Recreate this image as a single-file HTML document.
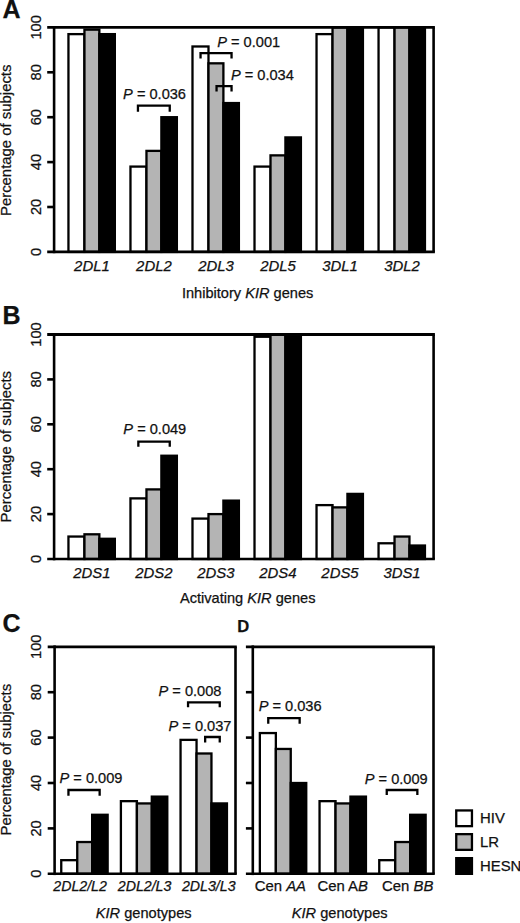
<!DOCTYPE html>
<html><head><meta charset="utf-8"><style>
html,body{margin:0;padding:0;background:#fff;}
svg{display:block;}
text{font-family:"Liberation Sans", sans-serif;fill:#111;stroke:#111;stroke-width:0.25px;}
</style></head><body>
<svg width="520" height="923" viewBox="0 0 520 923">
<rect x="68.45" y="34.13" width="16.00" height="217.77" fill="#fff" stroke="#000" stroke-width="2.3"/>
<rect x="84.45" y="29.64" width="14.90" height="222.26" fill="#b4b4b4" stroke="#000" stroke-width="2.3"/>
<rect x="99.35" y="34.13" width="15.50" height="217.77" fill="#000" stroke="#000" stroke-width="2.3"/>
<rect x="130.47" y="166.59" width="16.00" height="85.31" fill="#fff" stroke="#000" stroke-width="2.3"/>
<rect x="146.47" y="150.88" width="14.90" height="101.03" fill="#b4b4b4" stroke="#000" stroke-width="2.3"/>
<rect x="161.37" y="117.20" width="15.50" height="134.70" fill="#000" stroke="#000" stroke-width="2.3"/>
<rect x="192.49" y="46.48" width="16.00" height="205.42" fill="#fff" stroke="#000" stroke-width="2.3"/>
<rect x="208.49" y="63.32" width="14.90" height="188.58" fill="#b4b4b4" stroke="#000" stroke-width="2.3"/>
<rect x="223.39" y="103.06" width="15.50" height="148.84" fill="#000" stroke="#000" stroke-width="2.3"/>
<rect x="254.51" y="166.59" width="16.00" height="85.31" fill="#fff" stroke="#000" stroke-width="2.3"/>
<rect x="270.51" y="155.37" width="14.90" height="96.53" fill="#b4b4b4" stroke="#000" stroke-width="2.3"/>
<rect x="285.41" y="137.41" width="15.50" height="114.50" fill="#000" stroke="#000" stroke-width="2.3"/>
<rect x="316.53" y="34.13" width="16.00" height="217.77" fill="#fff" stroke="#000" stroke-width="2.3"/>
<rect x="332.53" y="27.40" width="14.90" height="224.50" fill="#b4b4b4" stroke="#000" stroke-width="2.3"/>
<rect x="347.43" y="27.40" width="15.50" height="224.50" fill="#000" stroke="#000" stroke-width="2.3"/>
<rect x="378.55" y="27.40" width="16.00" height="224.50" fill="#fff" stroke="#000" stroke-width="2.3"/>
<rect x="394.55" y="27.40" width="14.90" height="224.50" fill="#b4b4b4" stroke="#000" stroke-width="2.3"/>
<rect x="409.45" y="27.40" width="15.50" height="224.50" fill="#000" stroke="#000" stroke-width="2.3"/>
<line x1="54.10" y1="26.00" x2="54.10" y2="253.20" stroke="#000" stroke-width="2.6"/>
<line x1="47.20" y1="251.90" x2="434.90" y2="251.90" stroke="#000" stroke-width="2.6"/>
<line x1="47.20" y1="27.40" x2="434.90" y2="27.40" stroke="#000" stroke-width="2.8"/>
<line x1="433.60" y1="27.40" x2="433.60" y2="251.90" stroke="#000" stroke-width="2.6"/>
<line x1="47.20" y1="207.00" x2="54.10" y2="207.00" stroke="#000" stroke-width="2.6"/>
<line x1="47.20" y1="162.10" x2="54.10" y2="162.10" stroke="#000" stroke-width="2.6"/>
<line x1="47.20" y1="117.20" x2="54.10" y2="117.20" stroke="#000" stroke-width="2.6"/>
<line x1="47.20" y1="72.30" x2="54.10" y2="72.30" stroke="#000" stroke-width="2.6"/>
<text transform="translate(41.0,251.90) rotate(-90)" text-anchor="middle" font-size="14.6">0</text>
<text transform="translate(41.0,207.00) rotate(-90)" text-anchor="middle" font-size="14.6">20</text>
<text transform="translate(41.0,162.10) rotate(-90)" text-anchor="middle" font-size="14.6">40</text>
<text transform="translate(41.0,117.20) rotate(-90)" text-anchor="middle" font-size="14.6">60</text>
<text transform="translate(41.0,72.30) rotate(-90)" text-anchor="middle" font-size="14.6">80</text>
<text transform="translate(41.0,27.40) rotate(-90)" text-anchor="middle" font-size="14.6">100</text>
<text transform="translate(11.4,140.30) rotate(-90)" text-anchor="middle" font-size="14.9">Percentage of subjects</text>
<text x="91.90" y="270.80" text-anchor="middle" font-size="14.9" font-style="italic">2DL1</text>
<text x="153.92" y="270.80" text-anchor="middle" font-size="14.9" font-style="italic">2DL2</text>
<text x="215.94" y="270.80" text-anchor="middle" font-size="14.9" font-style="italic">2DL3</text>
<text x="277.96" y="270.80" text-anchor="middle" font-size="14.9" font-style="italic">2DL5</text>
<text x="339.98" y="270.80" text-anchor="middle" font-size="14.9" font-style="italic">3DL1</text>
<text x="402.00" y="270.80" text-anchor="middle" font-size="14.9" font-style="italic">3DL2</text>
<text x="247.60" y="298.40" text-anchor="middle" font-size="14.6" >Inhibitory <tspan font-style="italic">KIR</tspan> genes</text>
<path d="M137.95 111.70V105.70H169.75V111.70" fill="none" stroke="#000" stroke-width="2.3"/>
<text x="154.55" y="99.00" text-anchor="middle" font-size="14.6" ><tspan font-style="italic">P</tspan> = 0.036</text>
<path d="M200.55 58.40V53.10H231.55V58.40" fill="none" stroke="#000" stroke-width="2.3"/>
<text x="248.70" y="46.70" text-anchor="middle" font-size="14.6" ><tspan font-style="italic">P</tspan> = 0.001</text>
<path d="M216.55 91.50V86.20H231.55V91.50" fill="none" stroke="#000" stroke-width="2.3"/>
<text x="262.40" y="80.30" text-anchor="middle" font-size="14.6" ><tspan font-style="italic">P</tspan> = 0.034</text>
<rect x="68.45" y="536.55" width="16.00" height="22.45" fill="#fff" stroke="#000" stroke-width="2.3"/>
<rect x="84.45" y="534.30" width="14.90" height="24.70" fill="#b4b4b4" stroke="#000" stroke-width="2.3"/>
<rect x="99.35" y="538.79" width="15.50" height="20.21" fill="#000" stroke="#000" stroke-width="2.3"/>
<rect x="130.47" y="498.38" width="16.00" height="60.62" fill="#fff" stroke="#000" stroke-width="2.3"/>
<rect x="146.47" y="489.40" width="14.90" height="69.60" fill="#b4b4b4" stroke="#000" stroke-width="2.3"/>
<rect x="161.37" y="455.73" width="15.50" height="103.27" fill="#000" stroke="#000" stroke-width="2.3"/>
<rect x="192.49" y="518.59" width="16.00" height="40.41" fill="#fff" stroke="#000" stroke-width="2.3"/>
<rect x="208.49" y="514.10" width="14.90" height="44.90" fill="#b4b4b4" stroke="#000" stroke-width="2.3"/>
<rect x="223.39" y="500.63" width="15.50" height="58.37" fill="#000" stroke="#000" stroke-width="2.3"/>
<rect x="254.51" y="336.75" width="16.00" height="222.25" fill="#fff" stroke="#000" stroke-width="2.3"/>
<rect x="270.51" y="334.50" width="14.90" height="224.50" fill="#b4b4b4" stroke="#000" stroke-width="2.3"/>
<rect x="285.41" y="334.50" width="15.50" height="224.50" fill="#000" stroke="#000" stroke-width="2.3"/>
<rect x="316.53" y="505.12" width="16.00" height="53.88" fill="#fff" stroke="#000" stroke-width="2.3"/>
<rect x="332.53" y="507.37" width="14.90" height="51.63" fill="#b4b4b4" stroke="#000" stroke-width="2.3"/>
<rect x="347.43" y="493.89" width="15.50" height="65.11" fill="#000" stroke="#000" stroke-width="2.3"/>
<rect x="378.55" y="543.28" width="16.00" height="15.72" fill="#fff" stroke="#000" stroke-width="2.3"/>
<rect x="394.55" y="536.55" width="14.90" height="22.45" fill="#b4b4b4" stroke="#000" stroke-width="2.3"/>
<rect x="409.45" y="545.53" width="15.50" height="13.47" fill="#000" stroke="#000" stroke-width="2.3"/>
<line x1="54.10" y1="333.10" x2="54.10" y2="560.30" stroke="#000" stroke-width="2.6"/>
<line x1="47.20" y1="559.00" x2="434.90" y2="559.00" stroke="#000" stroke-width="2.6"/>
<line x1="47.20" y1="334.50" x2="434.90" y2="334.50" stroke="#000" stroke-width="2.8"/>
<line x1="433.60" y1="334.50" x2="433.60" y2="559.00" stroke="#000" stroke-width="2.6"/>
<line x1="47.20" y1="514.10" x2="54.10" y2="514.10" stroke="#000" stroke-width="2.6"/>
<line x1="47.20" y1="469.20" x2="54.10" y2="469.20" stroke="#000" stroke-width="2.6"/>
<line x1="47.20" y1="424.30" x2="54.10" y2="424.30" stroke="#000" stroke-width="2.6"/>
<line x1="47.20" y1="379.40" x2="54.10" y2="379.40" stroke="#000" stroke-width="2.6"/>
<text transform="translate(41.0,559.00) rotate(-90)" text-anchor="middle" font-size="14.6">0</text>
<text transform="translate(41.0,514.10) rotate(-90)" text-anchor="middle" font-size="14.6">20</text>
<text transform="translate(41.0,469.20) rotate(-90)" text-anchor="middle" font-size="14.6">40</text>
<text transform="translate(41.0,424.30) rotate(-90)" text-anchor="middle" font-size="14.6">60</text>
<text transform="translate(41.0,379.40) rotate(-90)" text-anchor="middle" font-size="14.6">80</text>
<text transform="translate(41.0,334.50) rotate(-90)" text-anchor="middle" font-size="14.6">100</text>
<text transform="translate(11.4,446.75) rotate(-90)" text-anchor="middle" font-size="14.9">Percentage of subjects</text>
<text x="91.90" y="577.70" text-anchor="middle" font-size="14.9" font-style="italic">2DS1</text>
<text x="153.92" y="577.70" text-anchor="middle" font-size="14.9" font-style="italic">2DS2</text>
<text x="215.94" y="577.70" text-anchor="middle" font-size="14.9" font-style="italic">2DS3</text>
<text x="277.96" y="577.70" text-anchor="middle" font-size="14.9" font-style="italic">2DS4</text>
<text x="339.98" y="577.70" text-anchor="middle" font-size="14.9" font-style="italic">2DS5</text>
<text x="402.00" y="577.70" text-anchor="middle" font-size="14.9" font-style="italic">3DS1</text>
<text x="247.70" y="602.50" text-anchor="middle" font-size="14.6" >Activating <tspan font-style="italic">KIR</tspan> genes</text>
<path d="M138.35 446.70V441.60H169.75V446.70" fill="none" stroke="#000" stroke-width="2.3"/>
<text x="154.80" y="433.70" text-anchor="middle" font-size="14.6" ><tspan font-style="italic">P</tspan> = 0.049</text>
<rect x="61.25" y="860.18" width="16.00" height="13.62" fill="#fff" stroke="#000" stroke-width="2.3"/>
<rect x="77.25" y="842.02" width="14.90" height="31.78" fill="#b4b4b4" stroke="#000" stroke-width="2.3"/>
<rect x="92.15" y="814.78" width="15.50" height="59.02" fill="#000" stroke="#000" stroke-width="2.3"/>
<rect x="120.90" y="801.16" width="16.00" height="72.64" fill="#fff" stroke="#000" stroke-width="2.3"/>
<rect x="136.90" y="803.43" width="14.90" height="70.37" fill="#b4b4b4" stroke="#000" stroke-width="2.3"/>
<rect x="151.80" y="796.62" width="15.50" height="77.18" fill="#000" stroke="#000" stroke-width="2.3"/>
<rect x="180.55" y="739.87" width="16.00" height="133.93" fill="#fff" stroke="#000" stroke-width="2.3"/>
<rect x="196.55" y="753.49" width="14.90" height="120.31" fill="#b4b4b4" stroke="#000" stroke-width="2.3"/>
<rect x="211.45" y="803.43" width="15.50" height="70.37" fill="#000" stroke="#000" stroke-width="2.3"/>
<line x1="54.60" y1="645.40" x2="54.60" y2="875.10" stroke="#000" stroke-width="2.6"/>
<line x1="47.70" y1="873.80" x2="236.80" y2="873.80" stroke="#000" stroke-width="2.6"/>
<line x1="47.70" y1="646.80" x2="236.80" y2="646.80" stroke="#000" stroke-width="2.8"/>
<line x1="235.50" y1="646.80" x2="235.50" y2="873.80" stroke="#000" stroke-width="2.6"/>
<line x1="47.70" y1="828.40" x2="54.60" y2="828.40" stroke="#000" stroke-width="2.6"/>
<line x1="47.70" y1="783.00" x2="54.60" y2="783.00" stroke="#000" stroke-width="2.6"/>
<line x1="47.70" y1="737.60" x2="54.60" y2="737.60" stroke="#000" stroke-width="2.6"/>
<line x1="47.70" y1="692.20" x2="54.60" y2="692.20" stroke="#000" stroke-width="2.6"/>
<text transform="translate(41.0,873.80) rotate(-90)" text-anchor="middle" font-size="14.6">0</text>
<text transform="translate(41.0,828.40) rotate(-90)" text-anchor="middle" font-size="14.6">20</text>
<text transform="translate(41.0,783.00) rotate(-90)" text-anchor="middle" font-size="14.6">40</text>
<text transform="translate(41.0,737.60) rotate(-90)" text-anchor="middle" font-size="14.6">60</text>
<text transform="translate(41.0,692.20) rotate(-90)" text-anchor="middle" font-size="14.6">80</text>
<text transform="translate(41.0,646.80) rotate(-90)" text-anchor="middle" font-size="14.6">100</text>
<text transform="translate(11.4,759.65) rotate(-90)" text-anchor="middle" font-size="14.9">Percentage of subjects</text>
<text x="80.10" y="891.30" text-anchor="middle" font-size="14.2" font-style="italic">2DL2/L2</text>
<text x="144.60" y="891.30" text-anchor="middle" font-size="14.2" font-style="italic">2DL2/L3</text>
<text x="208.75" y="891.30" text-anchor="middle" font-size="14.2" font-style="italic">2DL3/L3</text>
<text x="143.70" y="917.50" text-anchor="middle" font-size="14.6" ><tspan font-style="italic">KIR</tspan> genotypes</text>
<path d="M68.45 795.70V790.00H99.65V795.70" fill="none" stroke="#000" stroke-width="2.3"/>
<text x="91.00" y="783.40" text-anchor="middle" font-size="14.6" ><tspan font-style="italic">P</tspan> = 0.009</text>
<path d="M188.05 707.30V702.40H219.75V707.30" fill="none" stroke="#000" stroke-width="2.3"/>
<text x="190.00" y="695.60" text-anchor="middle" font-size="14.6" ><tspan font-style="italic">P</tspan> = 0.008</text>
<path d="M205.15 742.60V737.00H219.75V742.60" fill="none" stroke="#000" stroke-width="2.3"/>
<text x="200.00" y="731.00" text-anchor="middle" font-size="14.6" ><tspan font-style="italic">P</tspan> = 0.037</text>
<rect x="259.85" y="733.06" width="16.00" height="140.74" fill="#fff" stroke="#000" stroke-width="2.3"/>
<rect x="275.85" y="748.95" width="14.90" height="124.85" fill="#b4b4b4" stroke="#000" stroke-width="2.3"/>
<rect x="290.75" y="783.00" width="15.50" height="90.80" fill="#000" stroke="#000" stroke-width="2.3"/>
<rect x="319.55" y="801.16" width="16.00" height="72.64" fill="#fff" stroke="#000" stroke-width="2.3"/>
<rect x="335.55" y="803.43" width="14.90" height="70.37" fill="#b4b4b4" stroke="#000" stroke-width="2.3"/>
<rect x="350.45" y="796.62" width="15.50" height="77.18" fill="#000" stroke="#000" stroke-width="2.3"/>
<rect x="379.25" y="860.18" width="16.00" height="13.62" fill="#fff" stroke="#000" stroke-width="2.3"/>
<rect x="395.25" y="842.02" width="14.90" height="31.78" fill="#b4b4b4" stroke="#000" stroke-width="2.3"/>
<rect x="410.15" y="814.78" width="15.50" height="59.02" fill="#000" stroke="#000" stroke-width="2.3"/>
<line x1="252.80" y1="645.40" x2="252.80" y2="875.10" stroke="#000" stroke-width="2.6"/>
<line x1="245.90" y1="873.80" x2="434.80" y2="873.80" stroke="#000" stroke-width="2.6"/>
<line x1="245.90" y1="646.80" x2="434.80" y2="646.80" stroke="#000" stroke-width="2.8"/>
<line x1="433.50" y1="646.80" x2="433.50" y2="873.80" stroke="#000" stroke-width="2.6"/>
<line x1="245.90" y1="828.40" x2="252.80" y2="828.40" stroke="#000" stroke-width="2.6"/>
<line x1="245.90" y1="783.00" x2="252.80" y2="783.00" stroke="#000" stroke-width="2.6"/>
<line x1="245.90" y1="737.60" x2="252.80" y2="737.60" stroke="#000" stroke-width="2.6"/>
<line x1="245.90" y1="692.20" x2="252.80" y2="692.20" stroke="#000" stroke-width="2.6"/>
<text x="280.40" y="891.20" text-anchor="middle" font-size="14.9" >Cen <tspan font-style="italic">AA</tspan></text>
<text x="342.75" y="891.20" text-anchor="middle" font-size="14.9" >Cen A<tspan font-style="italic">B</tspan></text>
<text x="407.75" y="891.20" text-anchor="middle" font-size="14.9" >Cen <tspan font-style="italic">BB</tspan></text>
<text x="339.70" y="917.60" text-anchor="middle" font-size="14.6" ><tspan font-style="italic">KIR</tspan> genotypes</text>
<path d="M268.25 723.70V718.20H299.65V723.70" fill="none" stroke="#000" stroke-width="2.3"/>
<text x="290.15" y="711.20" text-anchor="middle" font-size="14.6" ><tspan font-style="italic">P</tspan> = 0.036</text>
<path d="M386.75 795.00V790.00H417.35V795.00" fill="none" stroke="#000" stroke-width="2.3"/>
<text x="396.25" y="783.70" text-anchor="middle" font-size="14.6" ><tspan font-style="italic">P</tspan> = 0.009</text>
<text x="2.4" y="18.2" font-size="25" font-weight="bold">A</text>
<text x="2.6" y="323.8" font-size="25" font-weight="bold">B</text>
<text x="2.5" y="632" font-size="25" font-weight="bold">C</text>
<text x="237.3" y="631.8" font-size="16.6" font-weight="bold">D</text>
<rect x="456.25" y="810.45" width="15.70" height="15.70" fill="#fff" stroke="#000" stroke-width="2.3"/>
<text x="480.00" y="823.10" text-anchor="start" font-size="14.9" >HIV</text>
<rect x="456.25" y="834.15" width="15.70" height="15.70" fill="#b4b4b4" stroke="#000" stroke-width="2.3"/>
<text x="480.00" y="846.90" text-anchor="start" font-size="14.9" >LR</text>
<rect x="456.25" y="858.15" width="15.70" height="15.70" fill="#000" stroke="#000" stroke-width="2.3"/>
<text x="480.00" y="871.00" text-anchor="start" font-size="14.9" >HESN</text>
</svg>
</body></html>
